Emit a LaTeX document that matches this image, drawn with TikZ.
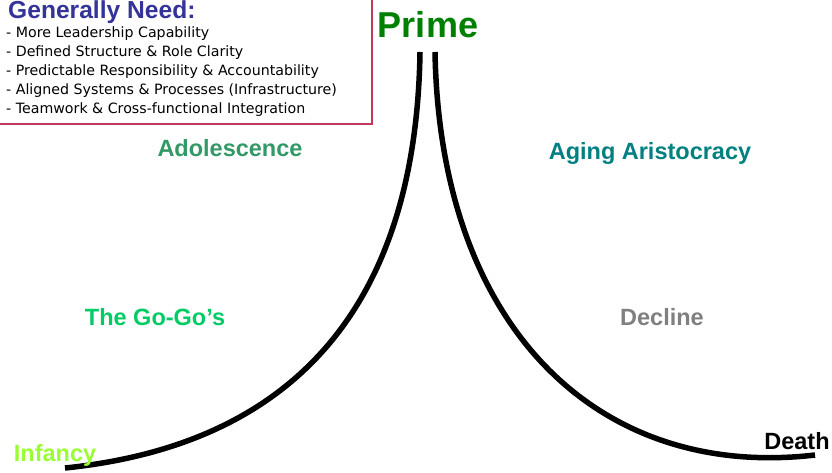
\documentclass[tikz,border=0pt]{standalone}
\usepackage{fontspec}
\setmainfont{Liberation Sans}
\newfontfamily\boxfont{DejaVu Sans}
\definecolor{needblue}{RGB}{51,51,153}
\definecolor{boxred}{RGB}{192,57,90}
\definecolor{primegreen}{RGB}{0,128,0}
\definecolor{adolgreen}{RGB}{51,153,102}
\definecolor{agingteal}{RGB}{0,128,128}
\definecolor{gogogreen}{RGB}{0,204,102}
\definecolor{declinegray}{RGB}{128,128,128}
\definecolor{infancygreen}{RGB}{153,255,51}
\begin{document}
\begin{tikzpicture}[x=1pt,y=-1pt,
  stage/.style={font=\fontsize{23.5}{26}\selectfont\bfseries, inner sep=0pt, anchor=base},
  needline/.style={font=\boxfont\fontsize{14.2}{16}\selectfont, inner sep=0pt, anchor=base west},
  lifecurve/.style={line width=5.5pt}]
\useasboundingbox (0,0) rectangle (832,472);
\fill[white] (0,0) rectangle (832,472);
% needs box
\draw[boxred, line width=1.6pt] (-5,-5) rectangle (372,124);
\node[needline, font=\fontsize{24.6}{26}\selectfont\bfseries, text=needblue] (need) at (8,18) {Generally Need:};
\node[needline] (n1) at (6,37.5) {- More Leadership Capability};
\node[needline] (n2) at (6,56.5) {- Defined Structure \& Role Clarity};
\node[needline] (n3) at (6,75.5) {- Predictable Responsibility \& Accountability};
\node[needline] (n4) at (6,94.5) {- Aligned Systems \& Processes (Infrastructure)};
\node[needline] (n5) at (6,113.5) {- Teamwork \& Cross-functional Integration};
% curves
\coordinate (infancyend) at (65,468);
\coordinate (peakleft) at (420,52);
\coordinate (peakright) at (435,52);
\coordinate (deathend) at (815,455);
\draw[lifecurve] (infancyend) .. controls (290,445) and (416,310) .. (peakleft);
\draw[lifecurve] (peakright) .. controls (440,330) and (600,480) .. (deathend);
% labels
\node[stage, font=\fontsize{36}{40}\selectfont\bfseries, text=primegreen] (prime) at (428,37.5) {Prime};
\node[stage, text=adolgreen] (adol) at (230,156) {Adolescence};
\node[stage, text=agingteal] (aging) at (650,159) {Aging Aristocracy};
\node[stage, text=gogogreen] (gogo) at (155,325) {The Go-Go’s};
\node[stage, text=declinegray] (decline) at (662,325) {Decline};
\node[stage, text=infancygreen] (infancy) at (55,461) {Infancy};
\node[stage, text=black] (death) at (797,449) {Death};
\end{tikzpicture}
\end{document}
